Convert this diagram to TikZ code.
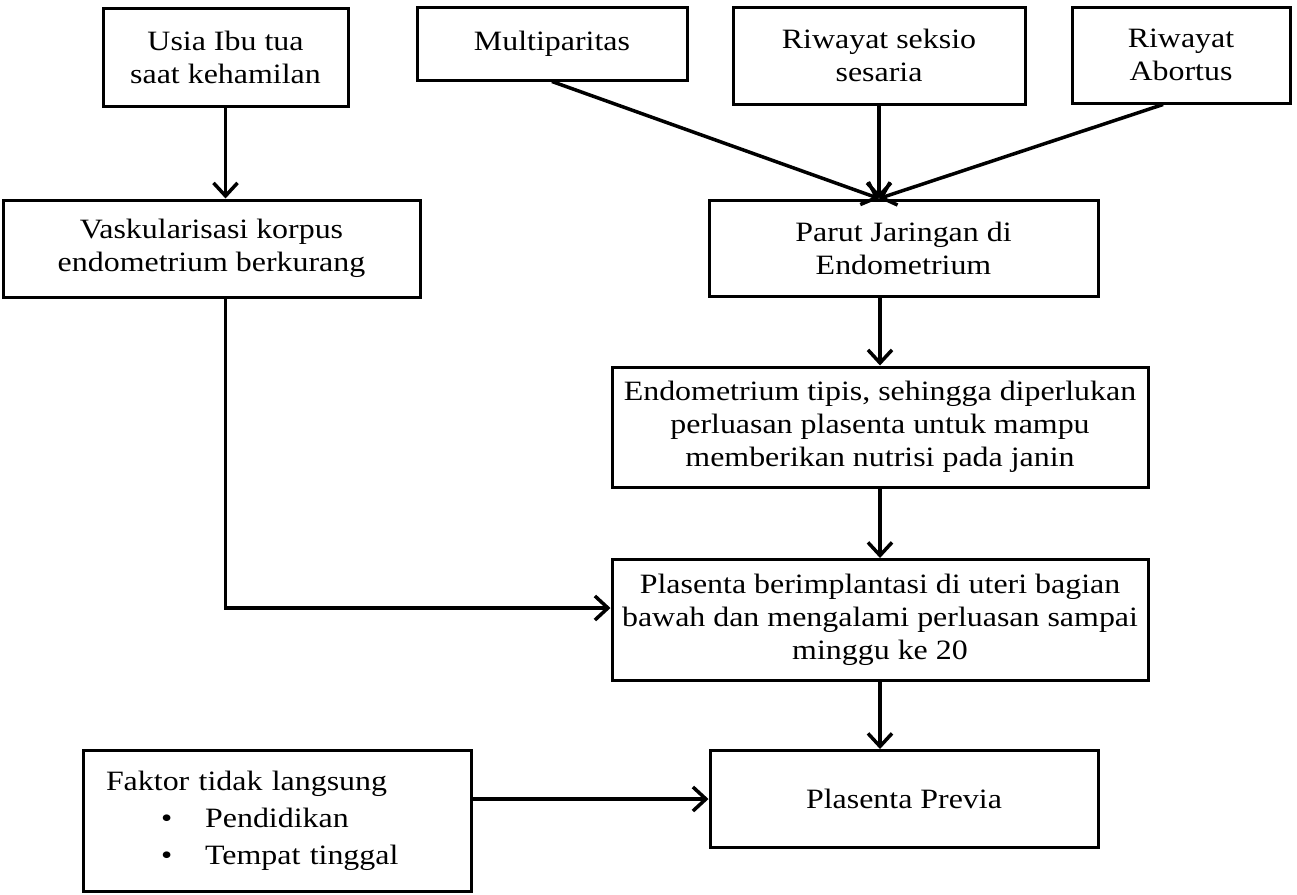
\documentclass[tikz,border=0pt]{standalone}
\usepackage{fontspec}
\setmainfont{Liberation Serif}[FakeStretch=1.14]
\usetikzlibrary{arrows.meta}

\begin{document}
\begin{tikzpicture}[
  x=1pt,y=-1pt,
  >={Straight Barb[length=13pt,width=24pt]},
  box/.style={draw,line width=3pt,align=center,inner sep=0pt,font=\fontsize{28}{33}\selectfont},
  arr/.style={->,line width=3.5pt}
]
\useasboundingbox (0,0) rectangle (1297,894);
\node[box,minimum width=245,minimum height=98] (usia) at (225.5,57) {Usia Ibu tua\\ saat kehamilan};
\node[box,minimum width=270,minimum height=73] (multi) at (552,43.5) {Multiparitas};
\node[box,minimum width=292,minimum height=97] (seksio) at (879,55.5) {Riwayat seksio\\ sesaria};
\node[box,minimum width=218,minimum height=96] (abortus) at (1181,55) {Riwayat\\ Abortus};
\node[box,minimum width=417,minimum height=97] (vask) at (211.5,248.5) {Vaskularisasi korpus\\ endometrium berkurang};
\node[box,minimum width=389,minimum height=96] (parut) at (903.5,248) {Parut Jaringan di\\ Endometrium};
\node[box,minimum width=536,minimum height=120] (tipis) at (880,427) {Endometrium tipis, sehingga diperlukan\\ perluasan plasenta untuk mampu\\ memberikan nutrisi pada janin};
\node[box,minimum width=536,minimum height=121] (impl) at (880,620) {Plasenta berimplantasi di uteri bagian\\ bawah dan mengalami perluasan sampai\\ minggu ke 20};
\node[box,minimum width=388,minimum height=97] (prev) at (904,799) {Plasenta Previa};
\node[box,minimum height=141,text width=342,inner xsep=23pt,align=left,font=\fontsize{28}{37}\selectfont] (fak) at (277,821)
  {Faktor tidak langsung\\ \hspace*{55pt}\textbullet\hspace{33pt}Pendidikan\\ \hspace*{55pt}\textbullet\hspace{33pt}Tempat tinggal};
\coordinate (hub) at (seksio.south |- parut.north);
\draw[arr] (usia) -- (usia |- vask.north);
\draw[arr] (multi.south) -- (hub);
\draw[arr] (seksio.south) -- (hub);
\draw[arr] ([xshift=-18pt]abortus.south) -- (hub);
\draw[arr] (parut.south -| tipis.north) -- (tipis.north);
\draw[arr] (tipis) -- (impl);
\draw[arr] (usia |- vask.south) |- ([yshift=12pt]impl.west);
\draw[arr] (impl.south) -- (impl.south |- prev.north);
\draw[arr] (fak.east |- prev.west) -- (prev.west);
\end{tikzpicture}
\end{document}
